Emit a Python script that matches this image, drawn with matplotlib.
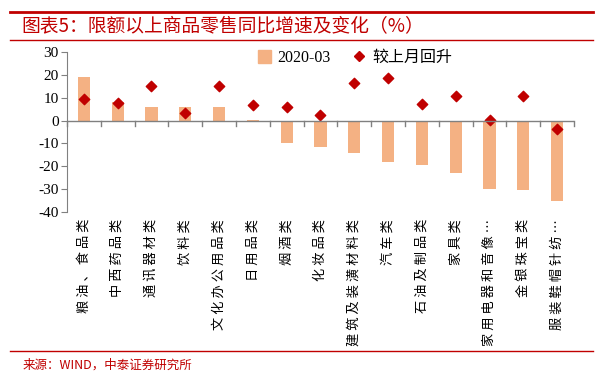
import numpy as np
import matplotlib.pyplot as plt
from matplotlib.lines import Line2D

plt.rcParams['font.family'] = ['Liberation Serif', 'Noto Sans CJK SC']
plt.rcParams['axes.unicode_minus'] = False

categories = ['粮油、食品类', '中西药品类', '通讯器材类', '饮料类', '文化办公用品类',
              '日用品类', '烟酒类', '化妆品类', '建筑及装潢材料类', '汽车类',
              '石油及制品类', '家具类', '家用电器和音像…', '金银珠宝类', '服装鞋帽针纺…']
yoy_2020_03 = [19.0, 8.0, 5.9, 6.0, 5.9, 0.3, -9.7, -11.6, -14.0, -18.1,
               -19.4, -22.8, -29.9, -30.5, -35.3]
rebound = [9.6, 7.8, 14.9, 3.1, 14.9, 6.6, 6.0, 2.6, 16.6, 18.4,
           7.3, 10.8, 0.1, 10.8, -3.9]

red = '#C00000'
bar_color = '#F4B183'
gray = '#808080'

fig = plt.figure(figsize=(6.03, 3.82), dpi=100)
ax = fig.add_axes([0.111, 0.445, 0.841, 0.419])

x = np.arange(len(categories))
ax.bar(x, yoy_2020_03, width=0.36, color=bar_color, label='2020-03', zorder=2)
ax.scatter(x, rebound, marker='D', s=28, color=red, label='较上月回升', zorder=3)

ax.set_xlim(-0.5, len(categories) - 0.5)
ax.set_ylim(-40, 30)
ax.set_yticks(np.arange(-40, 31, 10))
ax.tick_params(axis='y', labelsize=11, color=gray, length=4, pad=2)

# category axis sits on zero
ax.spines[['top', 'right', 'bottom']].set_visible(False)
ax.spines['left'].set_color(gray)
ax.axhline(0, color=gray, lw=1, zorder=4)
ax.set_xticks([])
for b in np.arange(-0.5, len(categories), 1.0):
    ax.plot([b, b], [0, -2.5], color=gray, lw=1, clip_on=False, zorder=4)

for i, lab in enumerate(categories):
    ax.text(i, -43, ' '.join(lab), rotation=90, ha='center', va='top',
            fontsize=9.5, family=['Noto Sans CJK SC'])

handles = [plt.Rectangle((0, 0), 1, 1, color=bar_color),
           Line2D([], [], marker='D', ls='', color=red, markersize=5)]
fig.legend(handles, ['2020-03', '较上月回升'], loc='center left',
           bbox_to_anchor=(0.415, 1 - 58 / 382), borderpad=0,
           ncol=2, frameon=False, handlelength=0.8, handleheight=0.8,
           handletextpad=0.4, columnspacing=1.4,
           prop={'family': ['Liberation Serif', 'Noto Sans CJK SC'], 'size': 11.5})

# frame lines and texts
fig.add_artist(Line2D([0.017, 0.983], [1 - 12 / 382, 1 - 12 / 382], color=red, lw=2))
fig.add_artist(Line2D([0.017, 0.983], [1 - 40 / 382, 1 - 40 / 382], color=red, lw=1))
fig.add_artist(Line2D([0.017, 0.983], [1 - 351 / 382, 1 - 351 / 382], color=red, lw=1))
fig.text(0.036, 1 - 26 / 382, '图表5：限额以上商品零售同比增速及变化（%）', color=red,
         fontsize=13.5, va='center', family=['Noto Sans CJK SC'])
fig.text(0.037, 1 - 365 / 382, '来源：WIND，中泰证券研究所', color=red,
         fontsize=9, va='center', family=['Noto Sans CJK SC'])

fig.savefig('out.png', dpi=100)
